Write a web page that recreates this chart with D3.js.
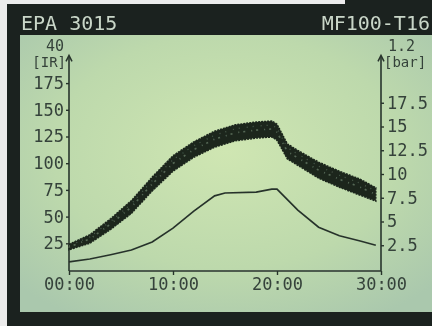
<!DOCTYPE html>
<html>
<head>
<meta charset="utf-8">
<script src="https://cdn.jsdelivr.net/npm/d3@7"></script>
<style>
  html, body { margin: 0; padding: 0; background: #ececec; }
  svg { display: block; }
  text { font-family: "DejaVu Sans Mono", monospace; }
</style>
</head>
<body>
<div id="chart"></div>
<script>
// time in minutes
const bandTime = [0, 2, 4, 6, 8, 10, 12, 14, 16, 18, 19.5, 20, 21, 22, 24, 26, 28, 29.5]
// IR band (scatter cloud), upper and lower edge, left axis
const irHigh = [24, 33, 48, 65, 87, 107, 120, 130, 136, 138.5, 139.5, 136.5, 118, 112, 101, 92.5, 85, 77]
const irLow  = [19, 25, 38, 53, 74, 92.5, 105.5, 115, 121, 123.5, 124.5, 121.5, 104, 98, 86, 77.5, 70, 64.5]

const lineTime = [0, 2, 4, 6, 8, 10, 12, 14, 15, 18, 19.5, 20, 22, 24, 26, 28, 29.5]
// pressure line, right axis [bar]
const pressure = [0.75, 1.05, 1.5, 2.0, 2.85, 4.3, 6.1, 7.7, 8.0, 8.1, 8.4, 8.4, 6.2, 4.4, 3.5, 2.95, 2.5]

const timeTicks = [0, 10, 20, 30]
const leftTicks = [25, 50, 75, 100, 125, 150, 175]
const rightTicks = [2.5, 5, 7.5, 10, 12.5, 15, 17.5]

const W = 432, H = 326
const ink = '#27332b'

const svg = d3.select('#chart').append('svg').attr('width', W).attr('height', H)
const defs = svg.append('defs')

const grad = defs.append('radialGradient').attr('id', 'lcd')
  .attr('cx', '0.5').attr('cy', '0.42').attr('r', '0.7')
grad.append('stop').attr('offset', '0%').attr('stop-color', '#cfe6b2')
grad.append('stop').attr('offset', '60%').attr('stop-color', '#bdd9ac')
grad.append('stop').attr('offset', '100%').attr('stop-color', '#aac8ad')

defs.append('filter').attr('id', 'soft')
  .append('feGaussianBlur').attr('stdDeviation', 0.55)

// bezel + title bar
svg.append('rect').attr('x', 7).attr('y', 4).attr('width', W - 7).attr('height', H - 4).attr('fill', '#1b221f')
svg.append('rect').attr('x', 345).attr('y', 0).attr('width', W - 345).attr('height', 5).attr('fill', '#1b221f')
svg.append('rect').attr('x', 20).attr('y', 35).attr('width', W - 20).attr('height', 277).attr('fill', 'url(#lcd)')

const title = svg.append('g').attr('filter', 'url(#soft)')
  .style('font-size', '20px').attr('fill', '#c9d6c8')
title.append('text').attr('x', 21).attr('y', 30).text('EPA 3015')
title.append('text').attr('x', 430).attr('y', 30).attr('text-anchor', 'end').text('MF100-T16')

// scales
const x = d3.scaleLinear().domain([0, 30]).range([69, 381])
const yLeft = d3.scaleLinear().domain([0, 200]).range([270, 56.4])
const yRight = d3.scaleLinear().domain([0, 20]).range([269, 79])

const g = svg.append('g').attr('filter', 'url(#soft)')

// axes
const axisStyle = sel => {
  sel.select('.domain').remove()
  sel.selectAll('.tick line').attr('stroke', ink).attr('stroke-width', 1.4)
  sel.selectAll('.tick text').attr('fill', '#35423a')
    .style('font-family', '"DejaVu Sans Mono", monospace').style('font-size', '17px')
}

g.append('g').attr('transform', `translate(${x(0)},0)`)
  .call(d3.axisLeft(yLeft).tickValues(leftTicks).tickSize(3).tickPadding(2))
  .call(axisStyle)

g.append('g').attr('transform', `translate(${x(30)},0)`)
  .call(d3.axisRight(yRight).tickValues(rightTicks).tickSize(3).tickPadding(3).tickFormat(d => String(d)))
  .call(axisStyle)

g.append('g').attr('transform', `translate(0,${yLeft(0) + 1})`)
  .call(d3.axisBottom(x).tickValues(timeTicks).tickSize(4).tickPadding(3)
    .tickFormat(d => d3.format('02')(d) + ':00'))
  .call(axisStyle)

// axis lines with arrows
const axisLines = [
  [[x(0), yLeft(0) + 1], [x(0), yLeft(200)]],
  [[x(30), yLeft(0) + 1], [x(30), yLeft(200)]],
  [[x(0), yLeft(0) + 1], [x(30), yLeft(0) + 1]]
]
g.selectAll('.axline').data(axisLines).enter().append('line')
  .attr('x1', d => d[0][0]).attr('y1', d => d[0][1])
  .attr('x2', d => d[1][0]).attr('y2', d => d[1][1])
  .attr('stroke', ink).attr('stroke-width', 1.6)

g.selectAll('.arrow').data([x(0), x(30)]).enter().append('path')
  .attr('d', d => `M${d - 3},${yLeft(200) + 5} L${d},${yLeft(200) - 1} L${d + 3},${yLeft(200) + 5}`)
  .attr('fill', 'none').attr('stroke', ink).attr('stroke-width', 1.5)

// axis captions
const cap = g.append('g').attr('fill', '#35423a')
cap.append('text').attr('x', 55).attr('y', 51).attr('text-anchor', 'middle').style('font-size', '15px').text('40')
cap.append('text').attr('x', 66).attr('y', 67).attr('text-anchor', 'end').style('font-size', '14px').text('[IR]')
cap.append('text').attr('x', 388).attr('y', 51).style('font-size', '15px').text('1.2')
cap.append('text').attr('x', 384).attr('y', 67).style('font-size', '14px').text('[bar]')

// IR scatter band
const band = bandTime.map((t, i) => ({ t: t, lo: irLow[i], hi: irHigh[i] }))
const area = d3.area().x(d => x(d.t)).y0(d => yLeft(d.lo)).y1(d => yLeft(d.hi))
g.append('path').datum(band).attr('d', area)
  .attr('fill', '#1d281f').attr('stroke', '#1d281f').attr('stroke-width', 1.5)
  .attr('stroke-dasharray', '2 1')

// speckle texture inside the band
const midLine = d3.line().x(d => x(d.t)).y(d => yLeft((d.lo + d.hi) / 2))
g.append('path').datum(band).attr('d', midLine)
  .attr('fill', 'none').attr('stroke', '#8fa98c').attr('stroke-width', 1.6)
  .attr('stroke-dasharray', '1 4 2 6').attr('opacity', 0.5)
const upLine = d3.line().x(d => x(d.t)).y(d => yLeft(d.lo + (d.hi - d.lo) * 0.75))
g.append('path').datum(band).attr('d', upLine)
  .attr('fill', 'none').attr('stroke', '#8fa98c').attr('stroke-width', 1.2)
  .attr('stroke-dasharray', '1 7 1 5').attr('opacity', 0.4)

// pressure line
const pts = lineTime.map((t, i) => ({ t: t, v: pressure[i] }))
g.append('path').datum(pts)
  .attr('d', d3.line().x(d => x(d.t)).y(d => yRight(d.v)))
  .attr('fill', 'none').attr('stroke', ink).attr('stroke-width', 1.7)
</script>
</body>
</html>
